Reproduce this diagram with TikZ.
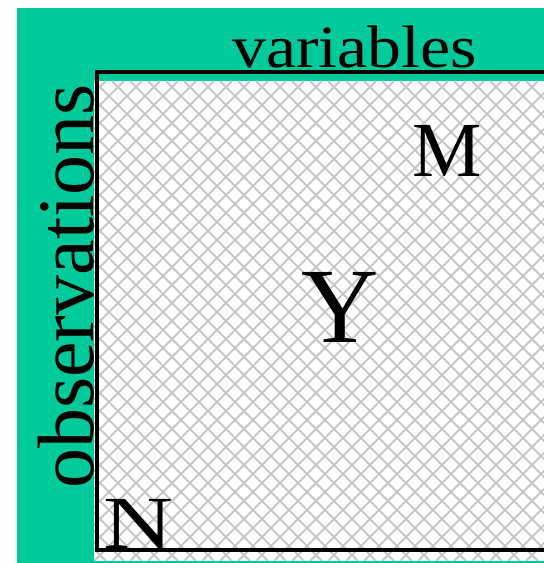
\documentclass[tikz,border=0pt]{standalone}
\usepackage{fontspec}
\setmainfont{Liberation Serif}
\usetikzlibrary{positioning}
\definecolor{tealGreen}{HTML}{00C99A}
\definecolor{hatchGray}{HTML}{C8C8C8}
\definecolor{inkBlack}{HTML}{000000}
\tikzset{
    sidetext/.style={inner sep=0pt,anchor=base,text=inkBlack},
    hatchline/.style={draw=hatchGray,line width=2pt},
    edgeline/.style={draw=inkBlack,line width=4pt}
}

\begin{document}
\begin{tikzpicture}[x=1pt,y=1pt]
    \useasboundingbox (0,0) rectangle (544,563);
    % background and matrix area
    \fill[tealGreen] (17,0) rectangle (544,555);
    \fill[white] (94,2) rectangle (544,482);
    \begin{scope}
        \clip (94,2) rectangle (544,482);
        \foreach \i in {-500,-482,...,560} {
            \draw[hatchline] (\i,2) -- ++(480,480);
            \draw[hatchline] (\i,482) -- ++(480,-480);
        }
    \end{scope}
    % matrix edges
    \coordinate (topright) at (544,491);
    \coordinate (corner) at (96.5,491);
    \coordinate (botleft) at (96.5,13);
    \coordinate (botright) at (544,13);
    \draw[edgeline] (topright) -- (corner) -- (botleft) -- (botright);
    % texts
    \node[sidetext,font=\fontsize{60}{60}\selectfont,xscale=1.13] (vars) at (354.5,495) {variables};
    \node[sidetext,font=\fontsize{80}{80}\selectfont,rotate=90] (obs) at (93,276.5) {observations};
    \node[sidetext,font=\fontsize{107}{107}\selectfont] (ymat) at (340,220) {Y};
    \node[sidetext,font=\fontsize{78}{78}\selectfont] (mvar) at (447,386) {M};
    \node[sidetext,font=\fontsize{75}{75}\selectfont,xscale=1.29] (nobs) at (138.5,15) {N};
\end{tikzpicture}
\end{document}
